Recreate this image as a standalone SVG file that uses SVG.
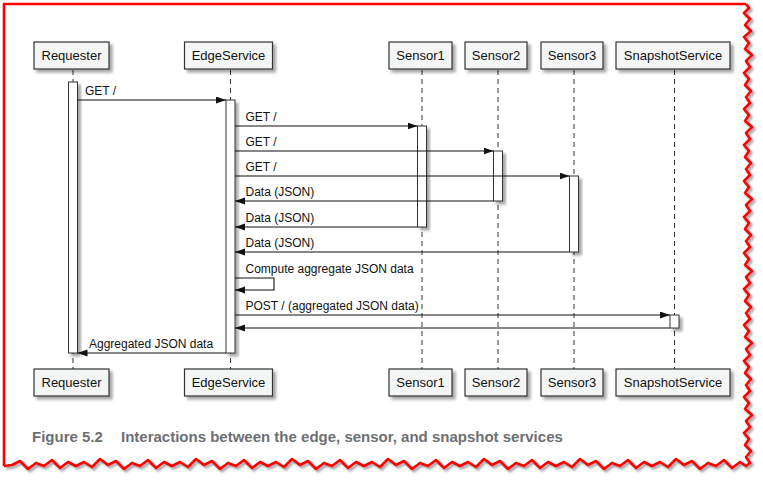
<svg xmlns="http://www.w3.org/2000/svg" xmlns:xlink="http://www.w3.org/1999/xlink" width="763" height="481" viewBox="0 0 763 481">
<style>
.box{fill:#f4f6f6;stroke:#333;stroke-width:1.2;filter:url(#sh)}
.act{fill:#fff;stroke:#333;stroke-width:1;filter:url(#sh)}
.lbl{font-family:"Liberation Sans",Arial,sans-serif;font-size:13px;fill:#111;text-anchor:middle}
.msg{font-family:"Liberation Sans",Arial,sans-serif;font-size:12px;fill:#111}
.life{stroke:#333;stroke-width:1;stroke-dasharray:5,4;fill:none}
.arr{stroke:#111;stroke-width:1.1;fill:none;marker-end:url(#ah)}
.cap{font-family:"Liberation Sans",Arial,sans-serif;font-size:15px;font-weight:bold;fill:#6d6f73}
.jag{fill:none;stroke:#ff0000;stroke-width:2.6;stroke-linejoin:round}
.jagsh{fill:none;stroke:#555;stroke-width:3;opacity:0.55;filter:url(#blur)}
</style>
<defs>
<filter id="sh" x="-30%" y="-30%" width="180%" height="180%">
<feDropShadow dx="3" dy="3" stdDeviation="1.8" flood-color="#000" flood-opacity="0.35"/>
</filter>
<filter id="blur"><feGaussianBlur stdDeviation="1"/></filter>
<marker id="ah" markerUnits="userSpaceOnUse" markerWidth="11" markerHeight="8" refX="10" refY="3.5" orient="auto">
<path d="M0,0 L10,3.5 L0,7 z" fill="#111"/>
</marker>
<path id="jagp" d="M746,4 L749,8 L744,13 L750,19 L745,25 L751,31 L744,37 L749,43 L745,49 L752,55 L746,61 L750,67 L744,73 L749,79 L745,85 L751,91 L746,97 L750,103 L744,109 L749,115 L745,121 L752,127 L746,133 L750,139 L744,145 L749,151 L745,157 L751,163 L746,169 L750,175 L744,181 L749,187 L745,193 L752,199 L746,205 L750,211 L744,217 L749,223 L745,229 L751,235 L746,241 L750,247 L744,253 L749,259 L745,265 L752,271 L746,277 L750,283 L744,289 L749,295 L745,301 L751,307 L746,313 L750,319 L744,325 L749,331 L745,337 L752,343 L746,349 L750,355 L744,361 L749,367 L745,373 L751,379 L746,385 L750,391 L744,397 L749,403 L745,409 L752,415 L746,421 L750,427 L744,433 L749,439 L745,445 L751,451 L746,457 L750,463 L746,466 L740,462 L732,468 L724,460 L716,466 L708,463 L700,469 L692,461 L684,465 L676,459 L668,467 L660,462 L652,466 L644,462 L636,468 L628,460 L620,466 L612,463 L604,469 L596,461 L588,465 L580,459 L572,467 L564,462 L556,466 L548,462 L540,468 L532,460 L524,466 L516,463 L508,469 L500,461 L492,465 L484,459 L476,467 L468,462 L460,466 L452,462 L444,468 L436,460 L428,466 L420,463 L412,469 L404,461 L396,465 L388,459 L380,467 L372,462 L364,466 L356,462 L348,468 L340,460 L332,466 L324,463 L316,469 L308,461 L300,465 L292,459 L284,467 L276,462 L268,466 L260,462 L252,468 L244,460 L236,466 L228,463 L220,469 L212,461 L204,465 L196,459 L188,467 L180,462 L172,466 L164,462 L156,468 L148,460 L140,466 L132,463 L124,469 L116,461 L108,465 L100,459 L92,467 L84,462 L76,466 L68,462 L60,468 L52,460 L44,466 L36,463 L28,469 L20,461 L12,465 L4,466"/>
</defs>
<rect width="763" height="481" fill="#fff"/>
<!-- frame -->
<g id="frame">
<use xlink:href="#jagp" class="jagsh" transform="translate(2,2)"/>
<path d="M4,466 L4,4 L746,4" class="jag"/>
<use xlink:href="#jagp" class="jag"/>
</g>
<!-- lifelines -->
<g id="lifelines">
<line class="life" x1="73" y1="70" x2="73" y2="369"/>
<line class="life" x1="230.5" y1="70" x2="230.5" y2="369"/>
<line class="life" x1="422" y1="70" x2="422" y2="369"/>
<line class="life" x1="498" y1="70" x2="498" y2="369"/>
<line class="life" x1="574" y1="70" x2="574" y2="369"/>
<line class="life" x1="674.5" y1="70" x2="674.5" y2="369"/>
</g>
<!-- activations -->
<g id="activations">
<rect class="act" x="68.5" y="82" width="9" height="271"/>
<rect class="act" x="226" y="100" width="9" height="253"/>
<rect class="act" x="417.5" y="126" width="9" height="101"/>
<rect class="act" x="493.5" y="151" width="9" height="50"/>
<rect class="act" x="569.5" y="176" width="9" height="76"/>
<rect class="act" x="670" y="315" width="9" height="13"/>
</g>
<!-- nodes -->
<g id="requester-top"><rect class="box" x="34" y="42" width="75" height="27"/><text class="lbl" x="71.5" y="60">Requester</text></g>
<g id="edge-top"><rect class="box" x="184.5" y="42" width="88" height="27"/><text class="lbl" x="228.5" y="60">EdgeService</text></g>
<g id="sensor1-top"><rect class="box" x="389" y="42" width="63" height="27"/><text class="lbl" x="420.5" y="60">Sensor1</text></g>
<g id="sensor2-top"><rect class="box" x="465" y="42" width="62" height="27"/><text class="lbl" x="496" y="60">Sensor2</text></g>
<g id="sensor3-top"><rect class="box" x="541" y="42" width="62" height="27"/><text class="lbl" x="572" y="60">Sensor3</text></g>
<g id="snapshot-top"><rect class="box" x="616" y="42" width="114" height="27"/><text class="lbl" x="673" y="60">SnapshotService</text></g>
<g id="requester-bottom"><rect class="box" x="34" y="369" width="75" height="27"/><text class="lbl" x="71.5" y="387">Requester</text></g>
<g id="edge-bottom"><rect class="box" x="184.5" y="369" width="88" height="27"/><text class="lbl" x="228.5" y="387">EdgeService</text></g>
<g id="sensor1-bottom"><rect class="box" x="389" y="369" width="63" height="27"/><text class="lbl" x="420.5" y="387">Sensor1</text></g>
<g id="sensor2-bottom"><rect class="box" x="465" y="369" width="62" height="27"/><text class="lbl" x="496" y="387">Sensor2</text></g>
<g id="sensor3-bottom"><rect class="box" x="541" y="369" width="62" height="27"/><text class="lbl" x="572" y="387">Sensor3</text></g>
<g id="snapshot-bottom"><rect class="box" x="616" y="369" width="114" height="27"/><text class="lbl" x="673" y="387">SnapshotService</text></g>
<!-- connectors -->
<g id="connectors">
<line class="arr" x1="77.5" y1="100" x2="226" y2="100"/>
<line class="arr" x1="235" y1="126" x2="417.5" y2="126"/>
<line class="arr" x1="235" y1="151" x2="493.5" y2="151"/>
<line class="arr" x1="235" y1="176" x2="569.5" y2="176"/>
<line class="arr" x1="493.5" y1="201" x2="235" y2="201"/>
<line class="arr" x1="417.5" y1="227" x2="235" y2="227"/>
<line class="arr" x1="569.5" y1="252" x2="235" y2="252"/>
<polyline class="arr" points="235,278 274,278 274,290 235,290"/>
<line class="arr" x1="235" y1="315" x2="670" y2="315"/>
<line class="arr" x1="670" y1="328" x2="235" y2="328"/>
<line class="arr" x1="226" y1="353" x2="77.5" y2="353"/>
</g>
<g id="labels">
<text class="msg" x="85" y="95">GET /</text>
<text class="msg" x="245.5" y="121">GET /</text>
<text class="msg" x="245.5" y="146">GET /</text>
<text class="msg" x="245.5" y="171">GET /</text>
<text class="msg" x="245.5" y="196">Data (JSON)</text>
<text class="msg" x="245.5" y="222">Data (JSON)</text>
<text class="msg" x="245.5" y="247">Data (JSON)</text>
<text class="msg" x="245.5" y="273">Compute aggregate JSON data</text>
<text class="msg" x="245.5" y="310">POST / (aggregated JSON data)</text>
<text class="msg" x="89" y="348">Aggregated JSON data</text>
</g>
<g id="caption">
<text class="cap" x="32" y="442">Figure 5.2</text>
<text class="cap" x="121" y="442">Interactions between the edge, sensor, and snapshot services</text>
</g>
</svg>
